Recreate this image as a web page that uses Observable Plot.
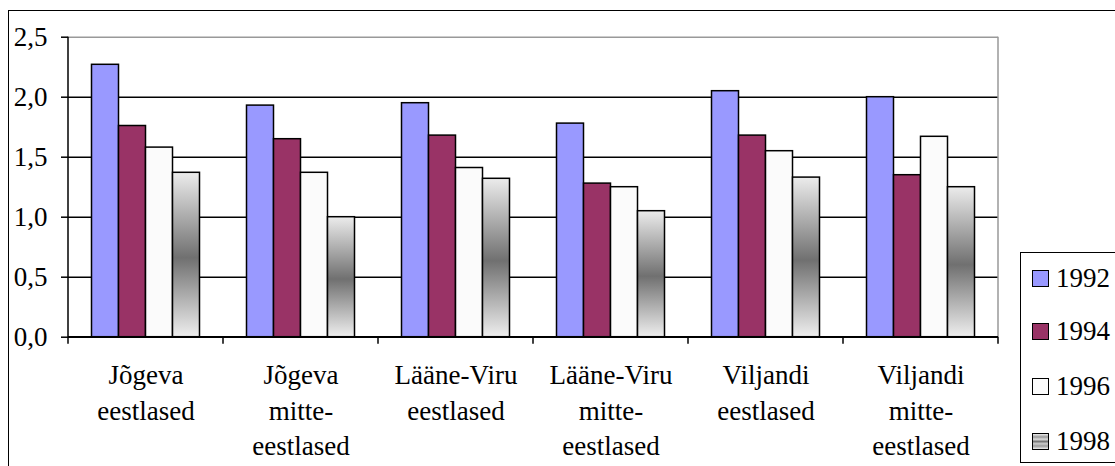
<!DOCTYPE html>
<html><head><meta charset="utf-8">
<script src="https://cdn.jsdelivr.net/npm/d3@7"></script>
<script src="https://cdn.jsdelivr.net/npm/@observablehq/plot@0.6"></script>
<style>
html,body{margin:0;padding:0;background:#fff;}
#wrap{position:relative;width:1115px;height:466px;overflow:hidden;font-family:'Liberation Serif',serif;}
#frame{position:absolute;left:8px;top:10px;width:1300px;height:700px;border:1.5px solid #000;box-sizing:border-box;pointer-events:none}
#chart{position:absolute;left:0;top:0}
#legend{position:absolute;left:1020px;top:252px;width:140px;height:211px;border:1.5px solid #000;box-sizing:border-box;background:#fff}
.item{position:absolute;left:11px;height:30px;font-size:27px;line-height:30px;white-space:nowrap;font-family:'Liberation Serif',serif}
.sw{display:inline-block;width:15px;height:15px;border:1.5px solid #000;vertical-align:middle;margin-right:7px;position:relative;top:-2px}
#chart svg text{font-family:'Liberation Serif',serif}
</style></head>
<body>
<div id="wrap">
  <div id="chart"></div>
  <div id="frame"></div>
  <div id="legend"></div>
</div>
<script>
const categories = ["Jõgeva\neestlased", "Jõgeva\nmitte-\neestlased", "Lääne-Viru\neestlased", "Lääne-Viru\nmitte-\neestlased", "Viljandi\neestlased", "Viljandi\nmitte-\neestlased"];
const years = ["1992", "1994", "1996", "1998"];
const v1992 = [2.27, 1.93, 1.95, 1.78, 2.05, 2.00];
const v1994 = [1.76, 1.65, 1.68, 1.28, 1.68, 1.35];
const v1996 = [1.58, 1.37, 1.41, 1.25, 1.55, 1.67];
const v1998 = [1.37, 1.00, 1.32, 1.05, 1.33, 1.25];
const yTicks = [0, 0.5, 1, 1.5, 2, 2.5];
const colors = ["#9999FF", "#993366", "#FBFBFB", "url(#g98)"];

const series = [v1992, v1994, v1996, v1998];
const data = [];
categories.forEach((c, i) => years.forEach((yr, j) => data.push({cat: c, year: yr, value: series[j][i]})));

const chart = Plot.plot({
  width: 1115, height: 466,
  marginLeft: 67.5, marginRight: 117.3, marginTop: 36.7, marginBottom: 129.3,
  style: {fontFamily: "'Liberation Serif',serif", fontSize: "27px", color: "#000", background: "transparent", overflow: "visible"},
  fx: {domain: categories, padding: 0, label: null, axis: null},
  x: {domain: years, paddingInner: 0, paddingOuter: 0.793, axis: null},
  y: {domain: [0, 2.5], label: null},
  color: {domain: years, range: colors},
  marks: [
    Plot.ruleY([0.5, 1, 1.5, 2], {stroke: "#000", strokeWidth: 1.5}),
    Plot.ruleY([2.5], {stroke: "#999", strokeWidth: 1.5}),
    Plot.barY(data, {fx: "cat", x: "year", y: "value", fill: "year", stroke: "#000", strokeWidth: 1.5}),
    Plot.ruleY([0], {stroke: "#000", strokeWidth: 1.5}),
    Plot.axisY(yTicks, {tickFormat: d => d.toFixed(1).replace(".", ","), tickSize: 7, tickPadding: 14, fontSize: 27, label: null, strokeWidth: 1.5}),
    Plot.axisFx({anchor: "bottom", tickSize: 0, tickPadding: 22, fontSize: 27, lineHeight: 1.31, label: null})
  ]
});
document.getElementById("chart").appendChild(chart);

// gradient for 1998 bars
const svg = d3.select(chart);
const defs = svg.insert("defs", ":first-child");
const g = defs.append("linearGradient").attr("id", "g98").attr("x1", 0).attr("y1", 0).attr("x2", 0).attr("y2", 1);
g.append("stop").attr("offset", "0%").attr("stop-color", "#ececec");
g.append("stop").attr("offset", "52%").attr("stop-color", "#707070");
g.append("stop").attr("offset", "100%").attr("stop-color", "#eeeeee");

// axis lines, boundary ticks, plot-area border using the chart's scales
const fx = chart.scale("fx"), y = chart.scale("y");
const x0 = fx.apply(categories[0]);
const x1 = fx.apply(categories[categories.length - 1]) + fx.bandwidth;
const yb = y.apply(0), yt = y.apply(2.5);
const over = svg.append("g");
over.append("line").attr("x1", x1).attr("x2", x1).attr("y1", yt).attr("y2", yb).attr("stroke", "#999").attr("stroke-width", 1.5);
over.append("line").attr("x1", x0).attr("x2", x0).attr("y1", yt).attr("y2", yb + 7).attr("stroke", "#000").attr("stroke-width", 1.5);
over.append("line").attr("x1", x0).attr("x2", x1).attr("y1", yb).attr("y2", yb).attr("stroke", "#000").attr("stroke-width", 1.5);
categories.forEach(c => {
  const xe = fx.apply(c) + fx.bandwidth;
  over.append("line").attr("x1", xe).attr("x2", xe).attr("y1", yb).attr("y2", yb + 7).attr("stroke", "#000").attr("stroke-width", 1.5);
});

// legend
const lg = document.getElementById("legend");
const legendTops = [10, 63, 118, 173];
years.forEach((yr, j) => {
  const it = document.createElement("div");
  it.className = "item";
  it.style.top = legendTops[j] + "px";
  const sw = document.createElement("span");
  sw.className = "sw";
  sw.style.background = j === 3 ? "linear-gradient(#eee,#999 20%,#ddd 35%,#777 50%,#ccc 65%,#999 80%,#eee)" : colors[j];
  it.appendChild(sw);
  it.appendChild(document.createTextNode(yr));
  lg.appendChild(it);
});
</script>
</body></html>
